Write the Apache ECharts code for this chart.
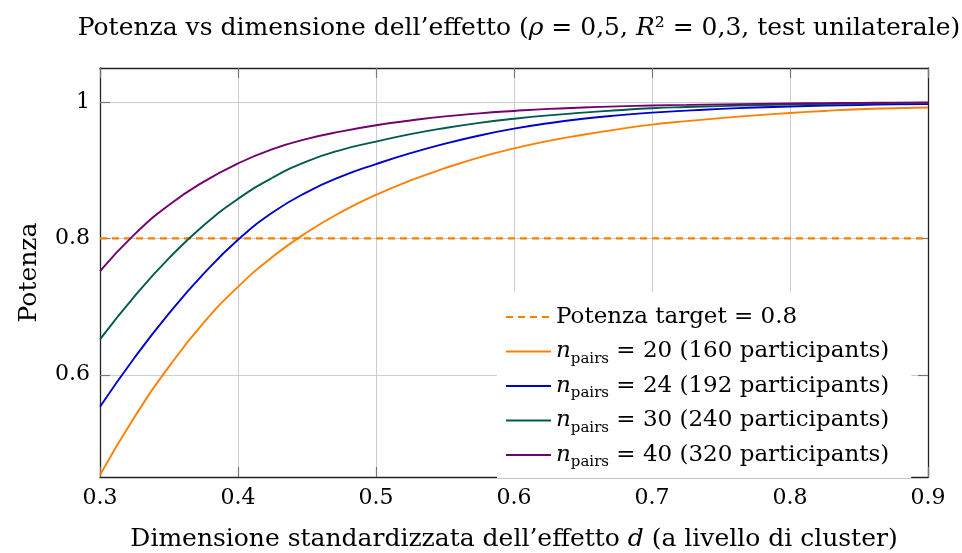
<!DOCTYPE html>
<html>
<head>
<meta charset="utf-8">
<script src="https://cdn.jsdelivr.net/npm/echarts@6/dist/echarts.min.js"></script>
<style>
  html, body { margin: 0; padding: 0; background: #fff; }
  #chart { width: 962px; height: 553px; }
</style>
</head>
<body>
<div id="chart"></div>
<script>
// effect size d (x axis)
const dValues = [0.3, 0.325, 0.35, 0.375, 0.4, 0.425, 0.45, 0.475, 0.5, 0.525, 0.55, 0.575, 0.6,
  0.625, 0.65, 0.675, 0.7, 0.725, 0.75, 0.775, 0.8, 0.825, 0.85, 0.875, 0.9];

// power, one list per cluster size
const power20 = [0.453, 0.538, 0.612, 0.676, 0.729, 0.773, 0.809, 0.839, 0.864, 0.885, 0.903, 0.919, 0.932,
  0.943, 0.952, 0.960, 0.967, 0.972, 0.9765, 0.9805, 0.984, 0.987, 0.9895, 0.991, 0.992];
const power24 = [0.553, 0.625, 0.690, 0.748, 0.798, 0.838, 0.868, 0.891, 0.909, 0.925, 0.939, 0.951, 0.961,
  0.969, 0.9755, 0.9805, 0.9845, 0.9875, 0.990, 0.992, 0.9935, 0.9948, 0.9958, 0.9966, 0.997];
const power30 = [0.652, 0.715, 0.771, 0.819, 0.858, 0.889, 0.913, 0.930, 0.942, 0.953, 0.962, 0.9695, 0.9755,
  0.9805, 0.9845, 0.988, 0.991, 0.9927, 0.9941, 0.9953, 0.9963, 0.9971, 0.9978, 0.9984, 0.9988];
const power40 = [0.752, 0.806, 0.849, 0.883, 0.910, 0.931, 0.946, 0.957, 0.966, 0.973, 0.979, 0.9835, 0.987,
  0.990, 0.992, 0.9937, 0.995, 0.9959, 0.9967, 0.9974, 0.998, 0.9985, 0.9989, 0.9992, 0.9994];

const pairCounts = [20, 24, 30, 40];
const participants = [160, 192, 240, 320];
const curveColors = ["#ff8000", "#0000cc", "#005a4f", "#700070"];

const targetPower = 0.8;
const xTicks = [0.3, 0.4, 0.5, 0.6, 0.7, 0.8, 0.9];
const yTicks = [0.6, 0.8, 1];

const FONT = "DejaVu Serif";
const targetName = "Potenza target = 0.8";

const curves = [power20, power24, power30, power40];
const seriesNames = pairCounts.map((n, i) => `n_pairs = ${n} (${participants[i]} participants)`);

function legendLabel(name) {
  const i = seriesNames.indexOf(name);
  if (i < 0) return name;
  return `{i|n}{sub|pairs} = ${pairCounts[i]} (${participants[i]} participants)`;
}

const axisLineStyle = { show: true, onZero: false, lineStyle: { color: "#222", width: 1.3 } };
const tickStyle = { show: true, inside: true, length: 10, lineStyle: { color: "#777", width: 1.2 } };
const gridLine = { show: true, lineStyle: { color: "#cdcdcd", width: 1 } };

const series = [
  {
    name: targetName,
    type: "line",
    symbol: "none",
    data: [[xTicks[0], targetPower], [xTicks[xTicks.length - 1], targetPower]],
    lineStyle: { color: "#ff8000", width: 2.4, type: [7, 5] },
    itemStyle: { color: "#ff8000" },
    z: 3,
  },
];
curves.forEach((vals, i) => {
  series.push({
    name: seriesNames[i],
    type: "line",
    symbol: "none",
    smooth: 0.5,
    data: dValues.map((d, j) => [d, vals[j]]),
    lineStyle: { color: curveColors[i], width: 1.9 },
    itemStyle: { color: curveColors[i] },
  });
});

const chart = echarts.init(document.getElementById("chart"), null, { renderer: "canvas" });

chart.setOption({
  animation: false,
  backgroundColor: "#fff",
  title: {
    text: "Potenza vs dimensione dell\u2019effetto ({i|\u03c1} = 0,5, {i|R}\u00b2 = 0,3, test unilaterale)",
    left: 514,
    textAlign: "center",
    top: 11,
    textStyle: {
      fontFamily: FONT,
      fontWeight: "normal",
      fontSize: 25,
      color: "#000",
      rich: {
        i: { fontFamily: FONT, fontStyle: "italic", fontSize: 25, color: "#000" },
      },
    },
  },
  grid: { left: 100, right: 34, top: 68, bottom: 76, containLabel: false, outerBoundsMode: "none" },
  legend: {
    left: 497,
    top: 292,
    orient: "vertical",
    itemWidth: 45,
    itemHeight: 4,
    itemGap: 4.5,
    padding: [10, 22, 8, 8],
    backgroundColor: "#fff",
    itemStyle: { opacity: 0, borderWidth: 0 },
    data: [targetName].concat(seriesNames),
    formatter: legendLabel,
    textStyle: {
      fontFamily: FONT,
      fontSize: 23,
      color: "#000",
      lineHeight: 30,
      rich: {
        i: { fontFamily: FONT, fontStyle: "italic", fontSize: 23, lineHeight: 30, color: "#000" },
        sub: { fontFamily: FONT, fontSize: 15, lineHeight: 16, verticalAlign: "bottom", color: "#000" },
      },
    },
  },
  xAxis: [
    {
      type: "value",
      min: 0.3,
      max: 0.9,
      interval: 0.1,
      position: "bottom",
      axisLine: axisLineStyle,
      axisTick: tickStyle,
      splitLine: gridLine,
      axisLabel: { fontFamily: FONT, fontSize: 22, color: "#000", margin: 10 },
      name: "Dimensione standardizzata dell\u2019effetto {i|d} (a livello di cluster)",
      nameLocation: "middle",
      nameGap: 50,
      nameTextStyle: {
        fontFamily: FONT,
        fontSize: 25,
        color: "#000",
        rich: { i: { fontFamily: FONT, fontStyle: "italic", fontSize: 25, color: "#000" } },
      },
    },
    {
      type: "value",
      min: 0.3,
      max: 0.9,
      interval: 0.1,
      position: "top",
      axisLine: axisLineStyle,
      axisTick: tickStyle,
      axisLabel: { show: false },
      splitLine: { show: false },
    },
  ],
  yAxis: [
    {
      type: "value",
      min: 0.45,
      max: 1.05,
      position: "left",
      axisLine: axisLineStyle,
      axisTick: Object.assign({}, tickStyle, { customValues: yTicks }),
      splitLine: gridLine,
      axisLabel: { customValues: yTicks, fontFamily: FONT, fontSize: 22, color: "#000", margin: 10 },
      name: "Potenza",
      nameLocation: "middle",
      nameGap: 58,
      nameTextStyle: { fontFamily: FONT, fontSize: 25, color: "#000" },
    },
    {
      type: "value",
      min: 0.45,
      max: 1.05,
      position: "right",
      axisLine: axisLineStyle,
      axisTick: Object.assign({}, tickStyle, { customValues: yTicks }),
      axisLabel: { show: false },
      splitLine: { show: false },
    },
  ],
  series: series,
});
</script>
</body>
</html>
